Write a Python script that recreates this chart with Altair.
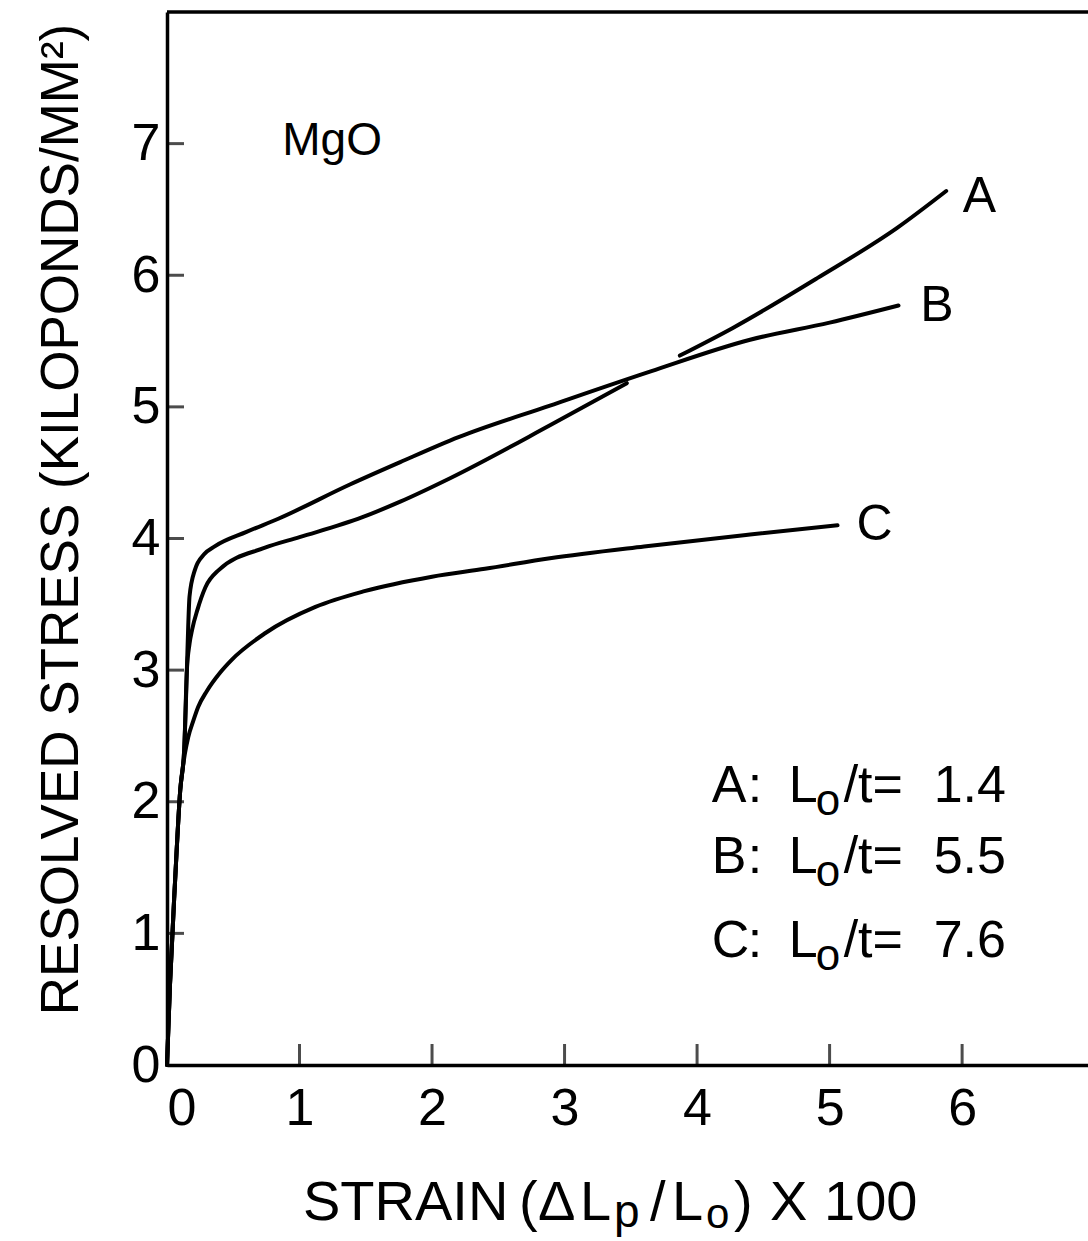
import altair as alt
import pandas as pd

# ---- data (strain x100, resolved stress kp/mm^2) ----
# Curve A is drawn in two pieces (broken where it crosses curve B)
a1_strain = [0, 0.023, 0.06, 0.10, 0.13, 0.15, 0.17, 0.19, 0.23, 0.29, 0.39, 0.74, 1.00, 1.47, 1.76, 2.14, 2.89, 3.47]
a1_stress = [0, 0.62, 1.38, 2.09, 2.40, 3.00, 3.20, 3.31, 3.46, 3.63, 3.76, 3.93, 4.01, 4.16, 4.28, 4.46, 4.86, 5.18]
a2_strain = [3.87, 4.27, 4.91, 5.51, 5.88]
a2_stress = [5.39, 5.60, 5.98, 6.36, 6.64]
b_strain = [0, 0.023, 0.06, 0.10, 0.13, 0.15, 0.16, 0.17, 0.21, 0.28, 0.36, 0.60, 0.84, 1.38, 1.76, 2.20, 2.89, 3.65, 4.40, 5.00, 5.52]
b_stress = [0, 0.62, 1.38, 2.09, 2.40, 3.00, 3.33, 3.56, 3.76, 3.88, 3.94, 4.05, 4.15, 4.41, 4.58, 4.77, 5.01, 5.27, 5.51, 5.64, 5.77]
c_strain = [0, 0.023, 0.06, 0.10, 0.136, 0.16, 0.20, 0.235, 0.30, 0.40, 0.49, 0.74, 1.12, 1.49, 2.00, 2.40, 2.89, 3.60, 4.40, 5.06]
c_stress = [0, 0.62, 1.38, 2.09, 2.37, 2.49, 2.62, 2.72, 2.84, 2.98, 3.08, 3.28, 3.48, 3.60, 3.71, 3.77, 3.85, 3.94, 4.03, 4.10]

x_ticks = [1, 2, 3, 4, 5, 6]
y_ticks = [1, 2, 3, 4, 5, 6, 7]
x_labels = [0, 1, 2, 3, 4, 5, 6]
y_labels = [0, 1, 2, 3, 4, 5, 6, 7]

curve_names = ["A", "B", "C"]
curve_label_x = [6.13, 5.81, 5.34]
curve_label_y = [6.48, 5.65, 3.99]

legend_letters = ["A", "B", "C"]
legend_values = ["1.4", "5.5", "7.6"]
legend_x = [4.11, 4.11, 4.11]
legend_y = [2.00, 1.46, 0.82]

FONT = "Liberation Sans, Arial, sans-serif"

segs = [("A1", a1_strain, a1_stress), ("A2", a2_strain, a2_stress),
        ("B", b_strain, b_stress), ("C", c_strain, c_stress)]
rows = []
for name, xs, ys in segs:
    for i, (xv, yv) in enumerate(zip(xs, ys)):
        rows.append({"segment": name, "idx": i, "strain": xv, "stress": yv})
df = pd.DataFrame(rows)

xscale = alt.Scale(domain=[0, 6.95], nice=False, zero=False)
yscale = alt.Scale(domain=[0, 8], nice=False, zero=False)

x_axis = alt.Axis(values=x_labels, format="d", grid=False, ticks=False, tickSize=0,
                  labelFont=FONT, labelFontSize=52, labelColor="black", labelPadding=18,
                  domainColor="black", domainWidth=3.5, title=None)
y_axis = alt.Axis(values=y_labels, format="d", grid=False, ticks=False, tickSize=0,
                  labelFont=FONT, labelFontSize=52, labelColor="black", labelPadding=7,
                  domainColor="black", domainWidth=3.5,
                  title="RESOLVED STRESS (KILOPONDS/MM\u00b2)", titleFont=FONT, titleFontSize=53,
                  titleFontWeight="normal", titleColor="black", titleX=-90, titleY=507,
                  titleAngle=270, titleBaseline="alphabetic", titleAlign="center")

lines = alt.Chart(df).mark_line(color="black", strokeWidth=4, interpolate="monotone",
                                strokeCap="round").encode(
    x=alt.X("strain:Q", scale=xscale, axis=x_axis),
    y=alt.Y("stress:Q", scale=yscale, axis=y_axis),
    detail="segment:N",
    order="idx:Q",
)

xt = alt.Chart(pd.DataFrame({"t": x_ticks})).mark_tick(
    orient="vertical", size=21, thickness=3, yOffset=-10.5, color="black").encode(
    x=alt.X("t:Q", scale=xscale), y=alt.datum(0))
yt = alt.Chart(pd.DataFrame({"t": y_ticks})).mark_tick(
    orient="horizontal", size=17, thickness=3, xOffset=8.5, color="black").encode(
    y=alt.Y("t:Q", scale=yscale), x=alt.datum(0))

top = alt.Chart(pd.DataFrame({"top": [8]})).mark_rule(color="black", strokeWidth=3.5).encode(
    y=alt.Y("top:Q", scale=yscale))

clabels = alt.Chart(pd.DataFrame({"name": curve_names, "x": curve_label_x, "y": curve_label_y})).mark_text(
    font=FONT, fontSize=50, color="black", align="center", baseline="alphabetic").encode(
    x=alt.X("x:Q", scale=xscale), y=alt.Y("y:Q", scale=yscale), text="name:N")

mgo = alt.Chart(pd.DataFrame({"t": ["MgO"], "x": [0.87], "y": [6.91]})).mark_text(
    font=FONT, fontSize=46, color="black", align="left", baseline="alphabetic").encode(
    x=alt.X("x:Q", scale=xscale), y=alt.Y("y:Q", scale=yscale), text="t:N")

# legend: each line is assembled from pieces so that the subscript "o" is lowered
legend_df = pd.DataFrame({"letter": legend_letters, "value": legend_values,
                          "x": legend_x, "y": legend_y})
legend_df["colon"] = ":"
legend_df["L"] = "L"
legend_df["o"] = "o"
legend_df["rest"] = "/t="
legend_pieces = [("letter", 0, 0, 52), ("colon", 36, 0, 52), ("L", 77, 0, 52),
                 ("o", 104, 13, 44), ("rest", 132, 0, 52), ("value", 222, 0, 52)]
legend_layers = []
for col, dx, dy, fs in legend_pieces:
    legend_layers.append(
        alt.Chart(legend_df).mark_text(font=FONT, fontSize=fs, color="black", align="left",
                                       baseline="alphabetic", dx=dx, dy=dy).encode(
            x=alt.X("x:Q", scale=xscale), y=alt.Y("y:Q", scale=yscale), text=f"{col}:N"))

# x-axis title assembled from pieces (subscripts p and o), offsets from the axis origin
title_pieces = [("STRAIN", 136, 155, 56), ("(", 352, 155, 56), ("\u0394", 371, 155, 56),
                ("L", 413, 155, 56), ("p", 447, 162, 46), ("/", 483, 155, 56),
                ("L", 505, 155, 56), ("o", 539, 163, 42), (")", 567, 155, 56),
                ("X", 603, 155, 56), ("100", 657, 155, 56)]
title_layers = []
for txt, dx, dy, fs in title_pieces:
    title_layers.append(
        alt.Chart(pd.DataFrame({"t": [txt]})).mark_text(
            font=FONT, fontSize=fs, color="black", align="left", baseline="alphabetic",
            dx=dx, dy=dy).encode(x=alt.datum(0), y=alt.datum(0), text="t:N"))

chart = alt.layer(lines, xt, yt, top, clabels, mgo, *legend_layers, *title_layers).properties(
    width=921, height=1053,
    padding={"left": 167, "top": 12, "right": 0, "bottom": 176},
    autosize=alt.AutoSizeParams(type="none"),
    background="white",
).configure_view(stroke=None)

chart.save("out.html", embed_options={"renderer": "svg", "actions": False})
